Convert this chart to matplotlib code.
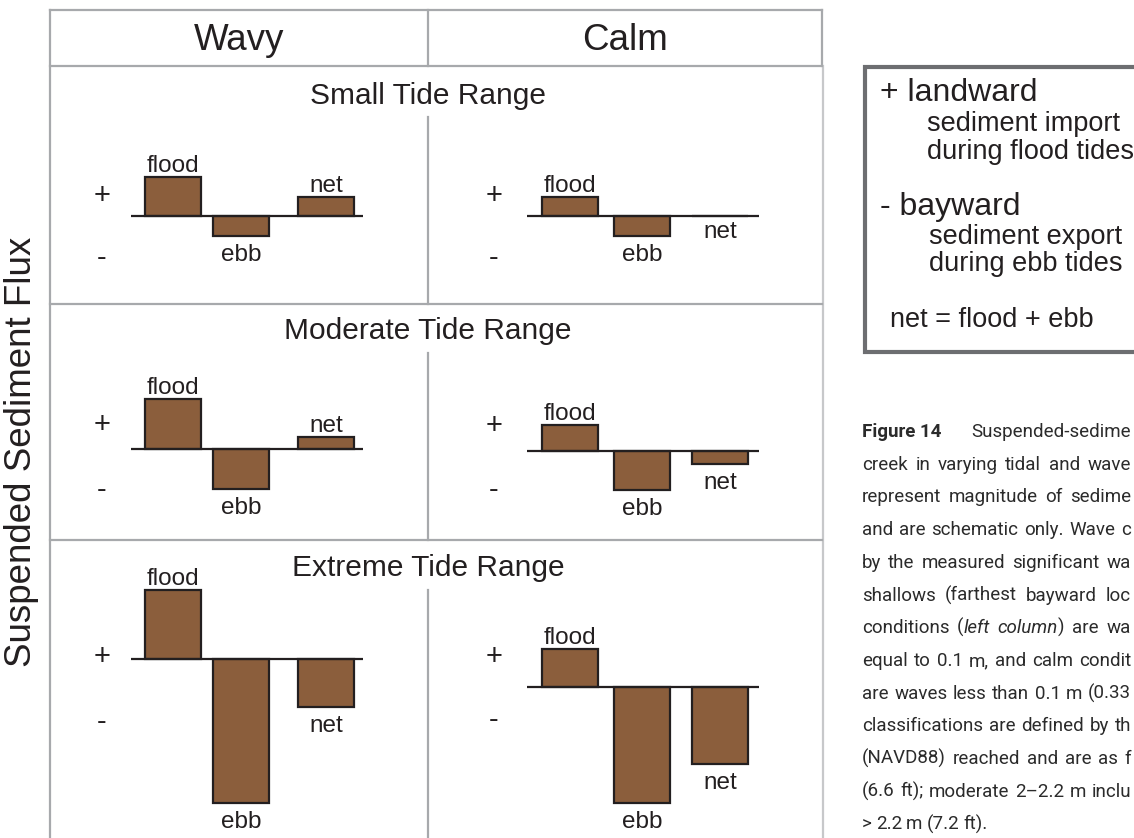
import matplotlib.pyplot as plt
from matplotlib.patches import Rectangle

W, H = 1134, 838
plt.rcParams['font.family'] = ['Liberation Sans', 'DejaVu Sans']

columns = ['Wavy', 'Calm']
rows = ['Small Tide Range', 'Moderate Tide Range', 'Extreme Tide Range']
bar_names = ['flood', 'ebb', 'net']

# schematic flux magnitudes (+ landward, - bayward)
small_wavy = [39, -20, 19]
small_calm = [19, -20, 0]
moderate_wavy = [50, -40, 12]
moderate_calm = [26, -39, -13]
extreme_wavy = [69, -144, -48]
extreme_calm = [38, -116, -77]

flux = [[small_wavy, small_calm],
        [moderate_wavy, moderate_calm],
        [extreme_wavy, extreme_calm]]

legend_lines = [
    ('+ landward', 880, 93, 23),
    ('sediment import', 927, 124, 19.5),
    ('during flood tides', 927, 152, 19.5),
    ('- bayward', 880, 207, 23),
    ('sediment export', 929, 237, 19.5),
    ('during ebb tides', 929, 264, 19.5),
    ('net = flood + ebb', 890, 320, 19.5),
]

# caption as far as it shows (cut at the right edge); *..* = italic
caption_head = 'Figure 14'
caption_first = 'Suspended-sedime'
caption = [
    'creek in varying tidal and wave',
    'represent magnitude of sedime',
    'and are schematic only. Wave c',
    'by the measured significant wa',
    'shallows (farthest bayward loc',
    'conditions (*left column*) are wa',
    'equal to 0.1 m, and calm condit',
    'are waves less than 0.1 m (0.33',
    'classifications are defined by th',
    '(NAVD88) reached and are as f',
    '(6.6 ft); moderate 2\u20132.2 m inclu',
    '> 2.2 m (7.2 ft).',
]

# layout in image pixels
col_x0 = [131, 527]
line_len = 232
bar_w = 56
bar_centers = [[42, 110, 195], [43, 115, 193]]
zero_y = [[216, 216], [449, 451], [659, 687]]
plus_x = [102, 494]
plus_y = [[196, 196], [425, 426], [657, 657]]
minus_y = [[258, 258], [490, 490], [722, 720]]
row_title_y = [96, 331, 568]
row_top = [66, 304, 540]
divider_span = [(117, 304), (353, 540), (590, 838)]

ink = '#231f20'
brown = '#8b5e3c'
grid_gray = '#a7a9ac'
cap_color = '#2b2b2b'
cap_font = ['Roboto', 'DejaVu Sans']
cap_size = 13.5

fig = plt.figure(figsize=(W / 100, H / 100), dpi=100)
bg = fig.add_axes([0, 0, 1, 1])
bg.set_xlim(0, W)
bg.set_ylim(H, 0)
bg.axis('off')

# table frame
bg.plot([50, 822], [10, 10], color=grid_gray, lw=1.6)
bg.plot([50, 50], [10, H], color=grid_gray, lw=1.6)
bg.plot([822, 822], [10, 66], color=grid_gray, lw=1.6)
bg.plot([823, 823], [66, H], color='#c7c8ca', lw=1.6)
bg.plot([428, 428], [10, 66], color=grid_gray, lw=1.6)
for y in row_top:
    bg.plot([50, 822], [y, y], color=grid_gray, lw=1.6)
for y0, y1 in divider_span:
    bg.plot([428, 428], [y0, y1], color=grid_gray, lw=1.6)

bg.text(239, 40, columns[0], ha='center', va='center', fontsize=26.5, color=ink)
bg.text(625, 40, columns[1], ha='center', va='center', fontsize=26.5, color=ink)
for r, title in enumerate(rows):
    bg.text(428, row_title_y[r], title, ha='center', va='center', fontsize=21.5, color=ink)

bg.text(22, 452, 'Suspended Sediment Flux', rotation=90, ha='center', va='center',
        fontsize=26.5, color=ink)

# legend box
bg.add_patch(Rectangle((865, 67), 400, 285, facecolor='white', edgecolor='#6d6e71', lw=3))
for txt, x, y, fs in legend_lines:
    bg.text(x, y, txt, ha='left', va='center', fontsize=fs, color=ink)

# caption, justified text
renderer = fig.canvas.get_renderer()


def split_words(line):
    words, italic = [], False
    for w in line.split(' '):
        parts = []
        for j, seg in enumerate(w.split('*')):
            if j > 0:
                italic = not italic
            if seg:
                parts.append((seg, italic))
        words.append(parts)
    return words


def put_line(line, y, x0=862, right=None):
    words = split_words(line)
    arts, widths = [], []
    for parts in words:
        wa, ww = [], []
        for seg, it in parts:
            a = bg.text(0, y, seg, va='baseline', ha='left', family=cap_font,
                        fontsize=cap_size, style='italic' if it else 'normal',
                        color=cap_color)
            wa.append(a)
            ww.append(a.get_window_extent(renderer).width)
        arts.append(wa)
        widths.append(ww)
    gap = 4.0
    total = sum(sum(ww) for ww in widths)
    if right is not None and len(arts) > 1:
        gap = max(gap, (right - x0 - total) / (len(arts) - 1))
    x = x0
    for wa, ww in zip(arts, widths):
        for a, w in zip(wa, ww):
            a.set_x(x)
            x += w
        x += gap


base0 = 437
step = 32.7
bg.text(862, base0, caption_head, family=cap_font, fontweight='bold', fontsize=cap_size,
        color=cap_color, va='baseline')
bg.text(1131, base0, caption_first, family=cap_font, fontsize=cap_size,
        color=cap_color, va='baseline', ha='right')
for k, line in enumerate(caption, start=1):
    last = k == len(caption)
    put_line(line, base0 + k * step, right=None if last else 1131)

# bar panels
ylo, yhi = -150, 80
for r in range(3):
    for c in range(2):
        z = zero_y[r][c]
        ax = fig.add_axes([col_x0[c] / W, 1 - (z - ylo) / H, line_len / W, (yhi - ylo) / H])
        ax.set_facecolor('none')
        ax.set_xlim(0, line_len)
        ax.set_ylim(ylo, yhi)
        ax.axis('off')
        vals = flux[r][c]
        ax.axhline(0, color=ink, lw=1.6, zorder=3)
        ax.bar(bar_centers[c], vals, width=bar_w, color=brown, edgecolor=ink,
               linewidth=1.6, zorder=2)
        for i, v in enumerate(vals):
            if i == 0 or v > 0:
                ax.annotate(bar_names[i], xy=(bar_centers[c][i], max(v, 0)),
                            xytext=(0, 5 * 0.72), textcoords='offset points',
                            ha='center', va='baseline', fontsize=17.5, color=ink)
            else:
                off = 8 if v < 0 else 5
                ax.annotate(bar_names[i], xy=(bar_centers[c][i], v),
                            xytext=(0, -off * 0.72), textcoords='offset points',
                            ha='center', va='top', fontsize=17.5, color=ink)
        bg.text(plus_x[c], plus_y[r][c] + 8, '+', ha='center', va='baseline',
                fontsize=21, color=ink)
        bg.text(plus_x[c], minus_y[r][c] + 8, '-', ha='center', va='baseline',
                fontsize=21, color=ink)

fig.savefig('out.png', dpi=100)
